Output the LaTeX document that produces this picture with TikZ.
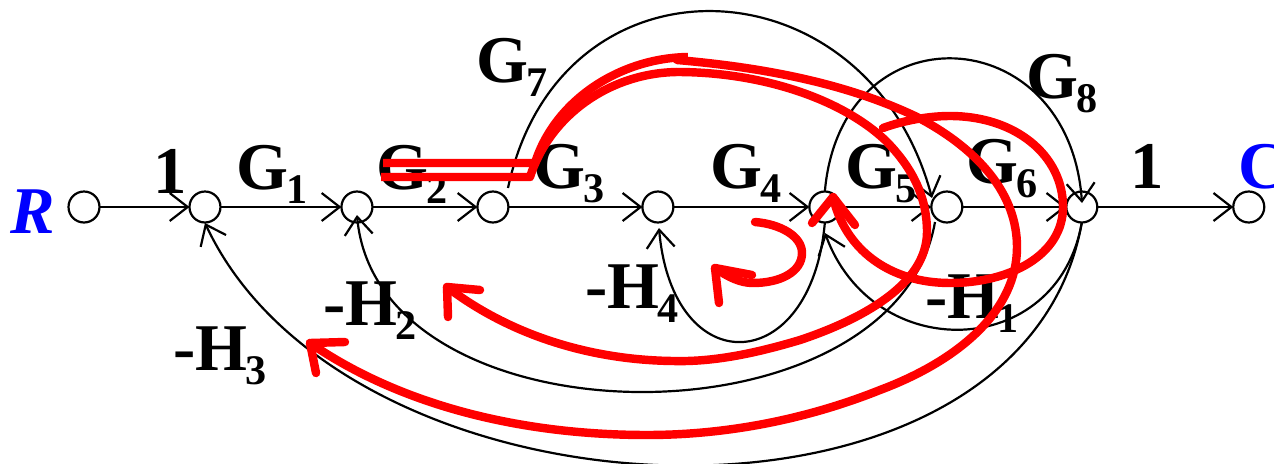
\documentclass[tikz,border=0pt]{standalone}
\usepackage{fontspec}
\usepackage{xcolor}
\setmainfont{Liberation Serif}
\usetikzlibrary{arrows.meta, positioning}
\definecolor{penred}{RGB}{255,0,0}
\definecolor{endblue}{RGB}{0,0,255}
\newcommand{\lab}[2]{#1\kern-1pt\raisebox{-8pt}{\fontsize{24}{24}\selectfont #2}}

\begin{document}
\begin{tikzpicture}[
    x=0.02cm, y=-0.02cm,
    nd/.style={circle, draw, line width=1.25pt, minimum size=0.62cm, inner sep=0pt, outer sep=0pt},
    arr/.style={-{Straight Barb[length=0.36cm, width=0.56cm]}, line width=1.25pt},
    lb/.style={anchor=base west, inner sep=0pt, font=\fontsize{38}{38}\selectfont\bfseries},
    ends/.style={lb, text=endblue},
    pen/.style={penred, line width=4.8pt, line cap=round, line join=round},
  ]
  \useasboundingbox (0,0) rectangle (1274,463);
  % forward path
  \node[nd] (n0) at (84,207) {};
  \node[nd, right=1.80cm of n0] (n1) {};
  \node[nd, right=2.42cm of n1] (n2) {};
  \node[nd, right=2.10cm of n2] (n3) {};
  \node[nd, right=2.68cm of n3] (n4) {};
  \node[nd, right=2.72cm of n4] (n5) {};
  \node[nd, right=1.82cm of n5] (n6) {};
  \node[nd, right=2.08cm of n6] (n7) {};
  \node[nd, right=2.72cm of n7] (n8) {};
  \draw[arr] (n0) -- (n1);
  \draw[arr] (n1) -- (n2);
  \draw[arr] (n2) -- (n3);
  \draw[arr] (n3) -- (n4);
  \draw[arr] (n4) -- (n5);
  \draw[arr] (n5) -- (n6);
  \draw[arr] (n6) -- (n7);
  \draw[arr] (n7) -- (n8);
  % arrow ends that stop off the circles
  \coordinate (t1) at (205,223);
  \coordinate (t2) at (357,215);
  \coordinate (t4) at (659,228);
  \coordinate (t5) at (825,233);
  \coordinate (t6) at (932,198);
  \coordinate (t7) at (1082,203);
  \coordinate (s3) at (508,188);
  \coordinate (s6) at (935,222);
  % feed-forward
  \draw[arr] (s3) to[out=78, in=105, looseness=1.5] (t6);
  \draw[arr] (n5.north) to[out=85, in=94, looseness=1.84] (t7);
  % feedback
  \draw[arr] (n7.south) to[out=-100, in=-70, looseness=1.4] (t5);
  \draw[arr] (n5.south) to[out=-95, in=-85, looseness=2.4] (t4);
  \draw[arr] (s6) to[out=-100, in=-85, looseness=1.03] (t2);
  \draw[arr] (n7.south) to[out=-100, in=-65, looseness=1.0] (t1);
  % labels
  \node[ends, font=\fontsize{38}{38}\selectfont\bfseries\itshape] (rlab) at (10,233) {R};
  \node[lb] (g0) at (153,193) {1};
  \node[lb] (g1) at (236,189) {\lab{G}{1}};
  \node[lb] (g2) at (376,189) {\lab{G}{2}};
  \node[lb] (g3) at (533,188) {\lab{G}{3}};
  \node[lb] (g4) at (710,188) {\lab{G}{4}};
  \node[lb] (g5) at (845,188) {\lab{G}{5}};
  \node[lb] (g6) at (966,183) {\lab{G}{6}};
  \node[lb] (g7) at (476,82) {\lab{G}{7}};
  \node[lb] (g8) at (1026,98) {\lab{G}{8}};
  \node[lb] (g9) at (1130,188) {1};
  \node[ends] (clab) at (1238,188) {C};
  \node[lb] (h1) at (925,318) {\lab{-H}{1}};
  \node[lb] (h2) at (323,325) {\lab{-H}{2}};
  \node[lb] (h3) at (173,370) {\lab{-H}{3}};
  \node[lb] (h4) at (585,308) {\lab{-H}{4}};
  % red strokes over everything
  \draw[pen, line cap=butt] (383,163) -- (535,163)
    .. controls (555,100) and (620,58) .. (688,57);
  \draw[pen] (677,60) .. controls (770,68) and (850,85) .. (917,117)
    .. controls (980,150) and (1017,195) .. (1017,247)
    .. controls (1017,310) and (960,360) .. (880,390)
    .. controls (810,418) and (730,435) .. (647,435)
    .. controls (520,435) and (400,405) .. (310,343);
  \draw[pen] (345,342) -- (310,343) -- (316,373);
  \draw[pen, line cap=butt] (381,177) -- (530,177)
    .. controls (550,115) and (610,73) .. (677,72);
  \draw[pen] (677,72) .. controls (760,72) and (840,98) .. (885,140)
    .. controls (915,170) and (927,200) .. (927,232)
    .. controls (927,285) and (860,320) .. (800,340)
    .. controls (750,355) and (710,362) .. (673,361)
    .. controls (590,360) and (510,335) .. (447,287);
  \draw[pen] (480,290) -- (447,287) -- (448,317);
  \draw[pen] (883,128) .. controls (905,120) and (930,116) .. (950,116)
    .. controls (1015,116) and (1063,155) .. (1063,207)
    .. controls (1063,255) and (1010,283) .. (950,283)
    .. controls (890,283) and (845,250) .. (833,197);
  \draw[pen] (812,223) -- (833,197) -- (855,225);
  \draw[pen] (755,222) .. controls (780,224) and (802,236) .. (802,253)
    .. controls (802,272) and (780,283) .. (753,283)
    .. controls (740,283) and (728,277) .. (715,268);
  \draw[pen] (752,275) -- (715,268) -- (719,303);
\end{tikzpicture}
\end{document}
